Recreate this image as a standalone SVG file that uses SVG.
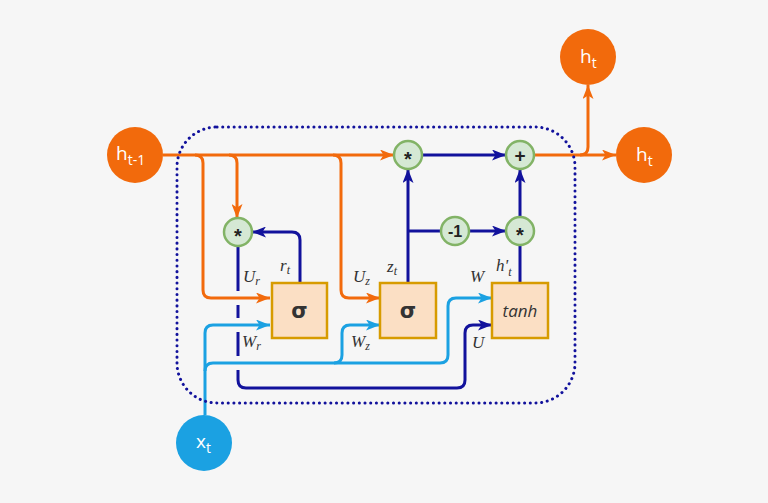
<svg xmlns="http://www.w3.org/2000/svg" width="768" height="503" viewBox="0 0 768 503">
<defs>
<style>
.or{fill:none;stroke:#f26a0c;stroke-width:3}
.db{fill:none;stroke:#12129c;stroke-width:3}
.lb{fill:none;stroke:#1ba1e2;stroke-width:3}
.bigt{font-family:"Open Sans","Liberation Sans",sans-serif;fill:#fff;font-size:19px}
.op{fill:#d5e8d4;stroke:#82b366;stroke-width:2.5}
.opt{font-family:"Liberation Sans",sans-serif;fill:#222;font-weight:bold;text-anchor:middle}
.box{fill:#fbdfc4;stroke:#d79b00;stroke-width:2.5}
.lab{font-family:"Liberation Serif",serif;font-style:italic;fill:#333;font-size:17px}
.sub{font-size:12px}
</style>
<marker id="ao" viewBox="0 0 14 11" refX="14" refY="5.5" markerWidth="14" markerHeight="11" markerUnits="userSpaceOnUse" orient="auto"><path d="M0,0 L14,5.5 L0,11 L3.5,5.5 Z" fill="#f26a0c"/></marker>
<marker id="ad" viewBox="0 0 14 11" refX="14" refY="5.5" markerWidth="14" markerHeight="11" markerUnits="userSpaceOnUse" orient="auto"><path d="M0,0 L14,5.5 L0,11 L3.5,5.5 Z" fill="#12129c"/></marker>
<marker id="al" viewBox="0 0 14 11" refX="14" refY="5.5" markerWidth="14" markerHeight="11" markerUnits="userSpaceOnUse" orient="auto"><path d="M0,0 L14,5.5 L0,11 L3.5,5.5 Z" fill="#1ba1e2"/></marker>
</defs>
<rect width="768" height="503" fill="#f6f6f6"/>

<g id="connectors">
<path class="or" d="M163,155 H394" marker-end="url(#ao)"/>
<path class="or" d="M195,155 Q203,155 203,163 V290 Q203,298 211,298 H270" marker-end="url(#ao)"/>
<path class="or" d="M229,155 Q237,155 237,163 V218" marker-end="url(#ao)"/>
<path class="or" d="M333,155 Q341,155 341,163 V290 Q341,298 349,298 H380" marker-end="url(#ao)"/>
<path class="or" d="M534,155 H616" marker-end="url(#ao)"/>
<path class="or" d="M580,155 Q588,155 588,147 V85" marker-end="url(#ao)"/>

<path class="db" d="M422,155 H506" marker-end="url(#ad)"/>
<path class="db" d="M408,283 V169" marker-end="url(#ad)"/>
<path class="db" d="M408,231 H441"/>
<path class="db" d="M469,231 H506" marker-end="url(#ad)"/>
<path class="db" d="M520,283 V245"/>
<path class="db" d="M520,217 V169" marker-end="url(#ad)"/>
<path class="db" d="M300,283 V240 Q300,232 292,232 H252" marker-end="url(#ad)"/>
<path class="db" d="M238,246 V291 M238,305 V318 M238,332 V356 M238,370 V380 Q238,388 246,388 H457 Q465,388 465,380 V333 Q465,325 473,325 H492" marker-end="url(#ad)"/>

<path class="lb" d="M205,415 V333 Q205,325 213,325 H270" marker-end="url(#al)"/>
<path class="lb" d="M205,371 Q205,363 213,363 H440 Q448,363 448,355 V306 Q448,298 456,298 H492" marker-end="url(#al)"/>
<path class="lb" d="M334,363 Q342,363 342,355 V333 Q342,325 350,325 H380" marker-end="url(#al)"/>
</g>

<rect x="177" y="127" width="398" height="276" rx="40" fill="none" stroke="#12129c" stroke-width="3" stroke-dasharray="0.1 5.6" stroke-linecap="round"/>

<g id="h_prev"><circle cx="135" cy="155" r="28" fill="#f26a0c"/><text class="bigt" x="116" y="160">h<tspan font-size="14" dy="5">t-1</tspan></text></g>
<g id="h_top"><circle cx="588" cy="57" r="28" fill="#f26a0c"/><text class="bigt" x="580" y="63">h<tspan font-size="14" dy="5">t</tspan></text></g>
<g id="h_right"><circle cx="644" cy="155" r="28" fill="#f26a0c"/><text class="bigt" x="636" y="161">h<tspan font-size="14" dy="5">t</tspan></text></g>
<g id="x_t"><circle cx="204" cy="443" r="28" fill="#1ba1e2"/><text class="bigt" x="196" y="448">x<tspan font-size="14" dy="5">t</tspan></text></g>

<g id="mul_r"><circle class="op" cx="238" cy="232" r="14"/><text class="opt" x="238" y="243" font-size="20">*</text></g>
<g id="mul_top"><circle class="op" cx="408" cy="155" r="14"/><text class="opt" x="408" y="166" font-size="20">*</text></g>
<g id="plus"><circle class="op" cx="520" cy="155" r="14"/><text class="opt" x="520" y="162" font-size="19">+</text></g>
<g id="minus1"><circle class="op" cx="455" cy="231" r="14"/><text class="opt" x="455" y="237" font-size="16">-1</text></g>
<g id="mul_h"><circle class="op" cx="520" cy="231" r="14"/><text class="opt" x="520" y="242" font-size="20">*</text></g>

<g id="sigma_r"><rect class="box" x="272" y="283" width="55" height="55"/><text x="299.5" y="318" text-anchor="middle" font-family="'DejaVu Sans',sans-serif" font-weight="bold" font-size="21" fill="#333">σ</text></g>
<g id="sigma_z"><rect class="box" x="380" y="283" width="56" height="55"/><text x="408" y="318" text-anchor="middle" font-family="'DejaVu Sans',sans-serif" font-weight="bold" font-size="21" fill="#333">σ</text></g>
<g id="tanh"><rect class="box" x="492" y="283" width="56" height="55"/><text x="520" y="317" text-anchor="middle" font-family="'Open Sans','Liberation Sans',sans-serif" font-style="italic" font-size="17" fill="#333">tanh</text></g>

<g id="labels">
<text class="lab" x="243" y="282">U<tspan class="sub" dy="3">r</tspan></text>
<text class="lab" x="280" y="271">r<tspan class="sub" dy="3">t</tspan></text>
<text class="lab" x="242" y="347">W<tspan class="sub" dy="3">r</tspan></text>
<text class="lab" x="353" y="282">U<tspan class="sub" dy="3">z</tspan></text>
<text class="lab" x="387" y="272">z<tspan class="sub" dy="3">t</tspan></text>
<text class="lab" x="351" y="347">W<tspan class="sub" dy="3">z</tspan></text>
<text class="lab" x="470" y="282">W</text>
<text class="lab" x="496" y="271">h'<tspan class="sub" dy="5">t</tspan></text>
<text class="lab" x="472" y="348">U</text>
</g>
</svg>
